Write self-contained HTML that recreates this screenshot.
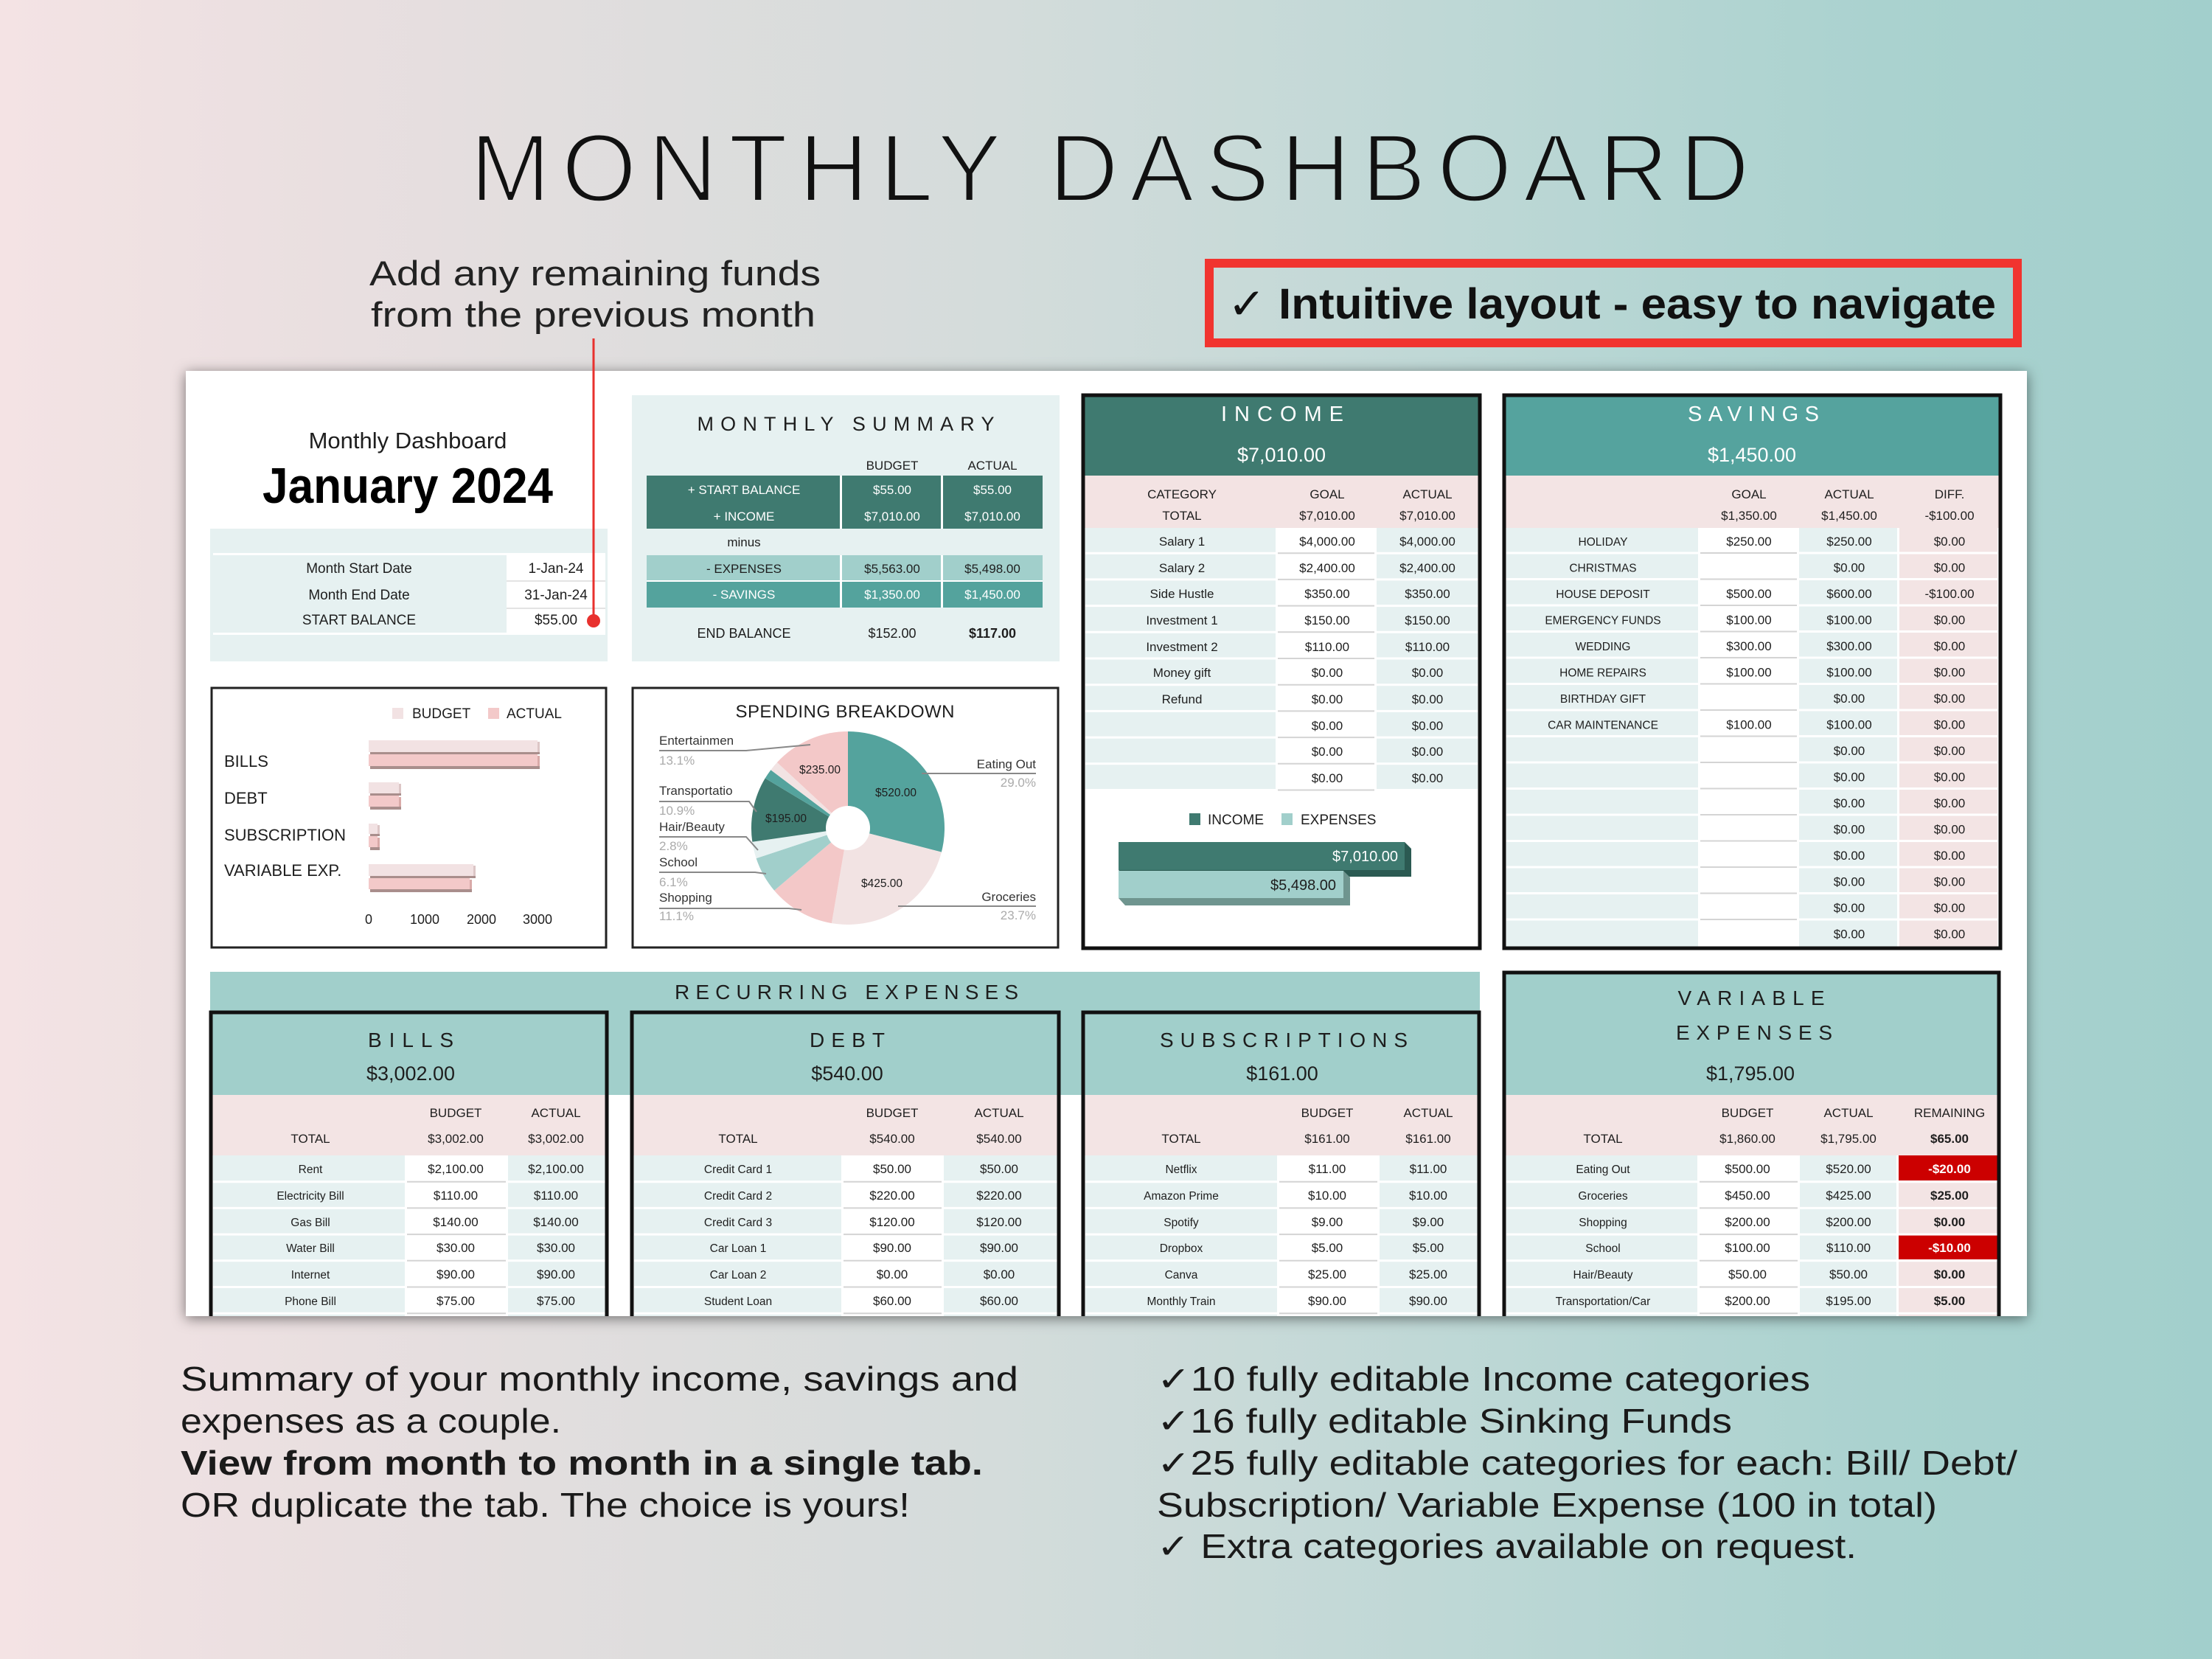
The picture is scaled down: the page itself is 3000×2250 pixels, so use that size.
<!DOCTYPE html>
<html><head><meta charset="utf-8"><style>
html,body{margin:0;padding:0;width:3000px;height:2250px;overflow:hidden;background:#ddd}
svg{display:block}
text{font-family:"Liberation Sans","DejaVu Sans",sans-serif;fill:#1e1e1e}
.c{text-anchor:middle;font-size:17px}
.s{text-anchor:middle;font-size:15.5px}
.w{fill:#fff}
.b{font-weight:bold}
.t{text-anchor:middle;font-size:29px;letter-spacing:7px}
.a{text-anchor:middle;font-size:27px}
.p{font-size:17px;fill:#333}
.q{font-size:17px;fill:#ababab}
.big{font-size:46px;fill:#1a1a1a}
</style></head><body>
<svg xmlns="http://www.w3.org/2000/svg" width="3000" height="2250" viewBox="0 0 3000 2250">
<defs>
<linearGradient id="bg" x1="0" x2="1" y1="0" y2="0">
<stop offset="0" stop-color="#f4e3e4"/>
<stop offset="0.15" stop-color="#e9dfe0"/>
<stop offset="0.3" stop-color="#dedddd"/>
<stop offset="0.45" stop-color="#d4dcdb"/>
<stop offset="0.65" stop-color="#bfd8d6"/>
<stop offset="0.85" stop-color="#aad2cf"/>
<stop offset="1" stop-color="#a2cfcc"/>
</linearGradient>
<linearGradient id="bg2" gradientUnits="userSpaceOnUse" x1="0" x2="3000" y1="0" y2="0">
<stop offset="0" stop-color="#f4e3e4"/>
<stop offset="0.15" stop-color="#e9dfe0"/>
<stop offset="0.3" stop-color="#dedddd"/>
<stop offset="0.45" stop-color="#d4dcdb"/>
<stop offset="0.65" stop-color="#bfd8d6"/>
<stop offset="0.85" stop-color="#aad2cf"/>
<stop offset="1" stop-color="#a2cfcc"/>
</linearGradient>
<filter id="sh" x="-5%" y="-5%" width="110%" height="110%">
<feDropShadow dx="0" dy="3" stdDeviation="9" flood-color="#000" flood-opacity="0.5"/>
</filter>
</defs>
<rect width="3000" height="2250" fill="url(#bg)"/>

<!-- Title -->
<text x="1505" y="273" font-size="131" text-anchor="middle" textLength="1735" style="fill:#111" stroke="url(#bg2)" stroke-width="4">MONTHLY DASHBOARD</text>
<text x="501" y="387" font-size="47" textLength="612" lengthAdjust="spacingAndGlyphs" style="fill:#222">Add any remaining funds</text>
<text x="503" y="443" font-size="47" textLength="603" lengthAdjust="spacingAndGlyphs" style="fill:#222">from the previous month</text>
<rect x="1640" y="357" width="1096" height="108" fill="none" stroke="#f1342f" stroke-width="12"/>
<text x="1665" y="432" font-size="58" font-weight="bold" textLength="1042" lengthAdjust="spacingAndGlyphs" style="fill:#111">✓ Intuitive layout - easy to navigate</text>

<!-- Card -->
<rect x="252" y="503" width="2497" height="1282" fill="#fff" filter="url(#sh)"/>

<!-- Left block -->
<text x="553" y="608" font-size="31" text-anchor="middle">Monthly Dashboard</text>
<text x="553" y="682" font-size="68" font-weight="bold" text-anchor="middle" textLength="394" lengthAdjust="spacingAndGlyphs" style="fill:#000">January 2024</text>
<rect x="285" y="717" width="539" height="180" fill="#e6f1f1"/>
<rect x="289" y="750" width="532" height="3" fill="#fff"/>
<rect x="687" y="753" width="134" height="105" fill="#fff"/>
<rect x="289" y="858" width="532" height="3" fill="#fff"/>
<rect x="687" y="787" width="134" height="2" fill="#e3e3e3"/>
<rect x="687" y="824" width="134" height="2" fill="#e3e3e3"/>
<text class="c" x="487" y="777" style="font-size:19px">Month Start Date</text>
<text class="c" x="754" y="777" style="font-size:19px">1-Jan-24</text>
<text class="c" x="487" y="813" style="font-size:19px">Month End Date</text>
<text class="c" x="754" y="813" style="font-size:19px">31-Jan-24</text>
<text class="c" x="487" y="847" style="font-size:19px">START BALANCE</text>
<text class="c" x="754" y="847" style="font-size:19px">$55.00</text>

<!-- Monthly summary -->
<rect x="857" y="536" width="580" height="361" fill="#e6f1f1"/>
<text x="1147" y="584" font-size="27" text-anchor="middle" textLength="403">MONTHLY SUMMARY</text>
<text class="c" x="1210" y="637">BUDGET</text>
<text class="c" x="1346" y="637">ACTUAL</text>
<rect x="877" y="645" width="537" height="72" fill="#3f7a70"/>
<rect x="877" y="753" width="537" height="35" fill="#a1cfcb"/>
<rect x="877" y="789" width="537" height="35" fill="#54a39d"/>
<rect x="1139" y="645" width="3" height="72" fill="#fff"/>
<rect x="1276" y="645" width="3" height="72" fill="#fff"/>
<rect x="1139" y="753" width="3" height="71" fill="#fff"/>
<rect x="1276" y="753" width="3" height="71" fill="#fff"/>
<rect x="877" y="787" width="537" height="2" fill="#fff"/>
<text class="c w" x="1009" y="670">+ START BALANCE</text>
<text class="c w" x="1210" y="670">$55.00</text>
<text class="c w" x="1346" y="670">$55.00</text>
<text class="c w" x="1009" y="706">+ INCOME</text>
<text class="c w" x="1210" y="706">$7,010.00</text>
<text class="c w" x="1346" y="706">$7,010.00</text>
<text class="c" x="1009" y="741">minus</text>
<text class="c" x="1009" y="777">- EXPENSES</text>
<text class="c" x="1210" y="777">$5,563.00</text>
<text class="c" x="1346" y="777">$5,498.00</text>
<text class="c w" x="1009" y="812">- SAVINGS</text>
<text class="c w" x="1210" y="812">$1,350.00</text>
<text class="c w" x="1346" y="812">$1,450.00</text>
<text class="c" x="1009" y="865" style="font-size:18px">END BALANCE</text>
<text class="c" x="1210" y="865" style="font-size:18px">$152.00</text>
<text class="c b" x="1346" y="865" style="font-size:18px">$117.00</text>

<!-- Bar chart panel -->
<rect x="287" y="933" width="535" height="352" fill="#fff" stroke="#222" stroke-width="3"/>
<rect x="532" y="960" width="15" height="15" fill="#f2e2e3"/>
<text x="559" y="974" font-size="19">BUDGET</text>
<rect x="662" y="960" width="15" height="15" fill="#f3c9c9"/>
<text x="687" y="974" font-size="19">ACTUAL</text>
<text x="304" y="1040" font-size="22">BILLS</text>
<text x="304" y="1090" font-size="22">DEBT</text>
<text x="304" y="1140" font-size="22">SUBSCRIPTION</text>
<text x="304" y="1188" font-size="22">VARIABLE EXP.</text>
<g>
<rect x="500" y="1004" width="229" height="16" fill="#f2e2e3"/><rect x="729" y="1006" width="3" height="16" fill="#dcc6c6"/><rect x="502" y="1020" width="230" height="3" fill="#a98e8c"/>
<rect x="500" y="1023" width="229" height="16" fill="#f3c9c9"/><rect x="729" y="1025" width="3" height="16" fill="#d9aaa8"/><rect x="502" y="1039" width="230" height="4" fill="#a98e8c"/>
<rect x="500" y="1061" width="41" height="15" fill="#f2e2e3"/><rect x="541" y="1063" width="3" height="15" fill="#dcc6c6"/><rect x="502" y="1076" width="42" height="3" fill="#a98e8c"/>
<rect x="500" y="1079" width="41" height="15" fill="#f3c9c9"/><rect x="541" y="1081" width="3" height="15" fill="#d9aaa8"/><rect x="502" y="1094" width="42" height="4" fill="#a98e8c"/>
<rect x="500" y="1117" width="12" height="14" fill="#f2e2e3"/><rect x="512" y="1119" width="3" height="14" fill="#dcc6c6"/><rect x="502" y="1131" width="13" height="3" fill="#a98e8c"/>
<rect x="500" y="1134" width="12" height="15" fill="#f3c9c9"/><rect x="512" y="1136" width="3" height="15" fill="#d9aaa8"/><rect x="502" y="1149" width="13" height="4" fill="#a98e8c"/>
<rect x="500" y="1172" width="142" height="16" fill="#f2e2e3"/><rect x="642" y="1174" width="3" height="16" fill="#dcc6c6"/><rect x="502" y="1188" width="143" height="3" fill="#a98e8c"/>
<rect x="500" y="1191" width="137" height="15" fill="#f3c9c9"/><rect x="637" y="1193" width="3" height="15" fill="#d9aaa8"/><rect x="502" y="1206" width="138" height="4" fill="#a98e8c"/>
</g>
<text class="c" x="500" y="1253" style="font-size:18px">0</text>
<text class="c" x="576" y="1253" style="font-size:18px">1000</text>
<text class="c" x="653" y="1253" style="font-size:18px">2000</text>
<text class="c" x="729" y="1253" style="font-size:18px">3000</text>

<!-- Pie panel -->
<rect x="858" y="933" width="577" height="352" fill="#fff" stroke="#222" stroke-width="3"/>
<text x="1146" y="973" font-size="24" text-anchor="middle" textLength="297">SPENDING BREAKDOWN</text>
<path d="M1150 1123 L1150 992 A131 131 0 0 1 1276.9 1155.6 Z" fill="#54a39d"/>
<path d="M1150 1123 L1276.9 1155.6 A131 131 0 0 1 1127.9 1252.1 Z" fill="#f2e3e3"/>
<path d="M1150 1123 L1127.9 1252.1 A131 131 0 0 1 1050.1 1207.7 Z" fill="#f3c8c8"/>
<path d="M1150 1123 L1050.1 1207.7 A131 131 0 0 1 1025.6 1164.1 Z" fill="#a1cfcb"/>
<path d="M1150 1123 L1025.6 1164.1 A131 131 0 0 1 1020.3 1141.7 Z" fill="#e6f1f1"/>
<path d="M1150 1123 L1020.3 1141.7 A131 131 0 0 1 1037.7 1055.5 Z" fill="#3f7a70"/>
<path d="M1150 1123 L1037.7 1055.5 A131 131 0 0 1 1045.4 1044.2 Z" fill="#54a39d"/>
<path d="M1150 1123 L1045.4 1044.2 A131 131 0 0 1 1053.9 1034.0 Z" fill="#f2e3e3"/>
<path d="M1150 1123 L1053.9 1034.0 A131 131 0 0 1 1150 992 Z" fill="#f3c8c8"/>
<circle cx="1150" cy="1123" r="30" fill="#fff"/>
<text class="s" x="1215" y="1080">$520.00</text>
<text class="s" x="1112" y="1049">$235.00</text>
<text class="s" x="1066" y="1115">$195.00</text>
<text class="s" x="1196" y="1203">$425.00</text>
<g fill="none" stroke="#888" stroke-width="2">
<polyline points="894,1018 1012,1018 1099,1010"/>
<polyline points="894,1087 1016,1087 1026,1101"/>
<polyline points="894,1135 1012,1135 1028,1153"/>
<polyline points="894,1183 1024,1183 1039,1185"/>
<polyline points="894,1232 1070,1232 1087,1234"/>
<polyline points="1405,1049 1250,1049"/>
<polyline points="1405,1229 1218,1229"/>
</g>
<text class="p" x="894" y="1010">Entertainmen</text><text class="q" x="894" y="1037">13.1%</text>
<text class="p" x="894" y="1078">Transportatio</text><text class="q" x="894" y="1105">10.9%</text>
<text class="p" x="894" y="1127">Hair/Beauty</text><text class="q" x="894" y="1153">2.8%</text>
<text class="p" x="894" y="1175">School</text><text class="q" x="894" y="1202">6.1%</text>
<text class="p" x="894" y="1223">Shopping</text><text class="q" x="894" y="1248">11.1%</text>
<text class="p" x="1405" y="1042" text-anchor="end">Eating Out</text><text class="q" x="1405" y="1067" text-anchor="end">29.0%</text>
<text class="p" x="1405" y="1222" text-anchor="end">Groceries</text><text class="q" x="1405" y="1247" text-anchor="end">23.7%</text>

<!-- INCOME panel -->
<rect x="1471" y="538" width="534" height="107" fill="#3f7a70"/>
<rect x="1471" y="645" width="534" height="71" fill="#f3e3e3"/>
<rect x="1472" y="716" width="258" height="357" fill="#e6f1f1"/>
<rect x="1867" y="716" width="137" height="357" fill="#e6f1f1"/>
<path d="M1472 750.2h532M1472 785.9h532M1472 821.6h532M1472 857.3h532M1472 893h532M1472 928.7h532M1472 964.4h532M1472 1000.1h532M1472 1035.8h532M1472 1071.5h532" stroke="#fff" stroke-width="3"/>
<path d="M1733 750.2h131M1733 785.9h131M1733 821.6h131M1733 857.3h131M1733 893h131M1733 928.7h131M1733 964.4h131M1733 1000.1h131M1733 1035.8h131M1733 1071.5h131" stroke="#d4d4d4" stroke-width="2"/>
<text x="1739" y="571" font-size="29" text-anchor="middle" textLength="166" class="w">INCOME</text>
<text class="a w" x="1738" y="626">$7,010.00</text>
<text class="c" x="1603" y="676">CATEGORY</text><text class="c" x="1800" y="676">GOAL</text><text class="c" x="1936" y="676">ACTUAL</text>
<text class="c" x="1603" y="705">TOTAL</text><text class="c" x="1800" y="705">$7,010.00</text><text class="c" x="1936" y="705">$7,010.00</text>
<text class="c" x="1603" y="740">Salary 1</text><text class="c" x="1800" y="740">$4,000.00</text><text class="c" x="1936" y="740">$4,000.00</text>
<text class="c" x="1603" y="776">Salary 2</text><text class="c" x="1800" y="776">$2,400.00</text><text class="c" x="1936" y="776">$2,400.00</text>
<text class="c" x="1603" y="811">Side Hustle</text><text class="c" x="1800" y="811">$350.00</text><text class="c" x="1936" y="811">$350.00</text>
<text class="c" x="1603" y="847">Investment 1</text><text class="c" x="1800" y="847">$150.00</text><text class="c" x="1936" y="847">$150.00</text>
<text class="c" x="1603" y="883">Investment 2</text><text class="c" x="1800" y="883">$110.00</text><text class="c" x="1936" y="883">$110.00</text>
<text class="c" x="1603" y="918">Money gift</text><text class="c" x="1800" y="918">$0.00</text><text class="c" x="1936" y="918">$0.00</text>
<text class="c" x="1603" y="954">Refund</text><text class="c" x="1800" y="954">$0.00</text><text class="c" x="1936" y="954">$0.00</text>
<text class="c" x="1800" y="990">$0.00</text><text class="c" x="1936" y="990">$0.00</text>
<text class="c" x="1800" y="1025">$0.00</text><text class="c" x="1936" y="1025">$0.00</text>
<text class="c" x="1800" y="1061">$0.00</text><text class="c" x="1936" y="1061">$0.00</text>
<rect x="1613" y="1103" width="15" height="16" fill="#3f7a70"/>
<text x="1638" y="1118" font-size="19">INCOME</text>
<rect x="1738" y="1103" width="15" height="16" fill="#a1cfcb"/>
<text x="1764" y="1118" font-size="19">EXPENSES</text>
<polygon points="1905,1142 1914,1151 1914,1189 1526,1189 1517,1180 1905,1180" fill="#2b5a52"/>
<rect x="1517" y="1142" width="388" height="38" fill="#3f7a70"/>
<polygon points="1822,1181 1831,1190 1831,1228 1526,1228 1517,1218 1822,1218" fill="#6f958f"/>
<rect x="1517" y="1181" width="305" height="37" fill="#a1cfcb"/>
<text x="1896" y="1168" font-size="20" text-anchor="end" class="w">$7,010.00</text>
<text x="1812" y="1207" font-size="20" text-anchor="end">$5,498.00</text>
<rect x="1469" y="536" width="538" height="750" fill="none" stroke="#111" stroke-width="5"/>

<!-- SAVINGS panel -->
<rect x="2042" y="538" width="669" height="107" fill="#55a39e"/>
<rect x="2042" y="645" width="669" height="71" fill="#f3e4e4"/>
<rect x="2043" y="716" width="260" height="568" fill="#e6f1f1"/>
<rect x="2440" y="716" width="133" height="568" fill="#e6f1f1"/>
<rect x="2576" y="716" width="133" height="568" fill="#f3e4e4"/>
<path d="M2043 750h666M2043 785.5h666M2043 821h666M2043 856.5h666M2043 892h666M2043 927.5h666M2043 963h666M2043 998.5h666M2043 1034h666M2043 1069.5h666M2043 1105h666M2043 1140.5h666M2043 1176h666M2043 1211.5h666M2043 1247h666" stroke="#fff" stroke-width="3"/>
<path d="M2306 750h131M2306 785.5h131M2306 821h131M2306 856.5h131M2306 892h131M2306 927.5h131M2306 963h131M2306 998.5h131M2306 1034h131M2306 1069.5h131M2306 1105h131M2306 1140.5h131M2306 1176h131M2306 1211.5h131M2306 1247h131" stroke="#d4d4d4" stroke-width="2"/>
<text x="2378" y="571" font-size="29" text-anchor="middle" textLength="178" class="w">SAVINGS</text>
<text class="a w" x="2376" y="626">$1,450.00</text>
<text class="c" x="2372" y="676">GOAL</text><text class="c" x="2508" y="676">ACTUAL</text><text class="c" x="2644" y="676">DIFF.</text>
<text class="c" x="2372" y="705">$1,350.00</text><text class="c" x="2508" y="705">$1,450.00</text><text class="c" x="2644" y="705">-$100.00</text>
<text class="s" x="2174" y="740">HOLIDAY</text><text class="c" x="2372" y="740">$250.00</text><text class="c" x="2508" y="740">$250.00</text><text class="c" x="2644" y="740">$0.00</text>
<text class="s" x="2174" y="775.5">CHRISTMAS</text><text class="c" x="2508" y="775.5">$0.00</text><text class="c" x="2644" y="775.5">$0.00</text>
<text class="s" x="2174" y="811">HOUSE DEPOSIT</text><text class="c" x="2372" y="811">$500.00</text><text class="c" x="2508" y="811">$600.00</text><text class="c" x="2644" y="811">-$100.00</text>
<text class="s" x="2174" y="846.5">EMERGENCY FUNDS</text><text class="c" x="2372" y="846.5">$100.00</text><text class="c" x="2508" y="846.5">$100.00</text><text class="c" x="2644" y="846.5">$0.00</text>
<text class="s" x="2174" y="882">WEDDING</text><text class="c" x="2372" y="882">$300.00</text><text class="c" x="2508" y="882">$300.00</text><text class="c" x="2644" y="882">$0.00</text>
<text class="s" x="2174" y="917.5">HOME REPAIRS</text><text class="c" x="2372" y="917.5">$100.00</text><text class="c" x="2508" y="917.5">$100.00</text><text class="c" x="2644" y="917.5">$0.00</text>
<text class="s" x="2174" y="953">BIRTHDAY GIFT</text><text class="c" x="2508" y="953">$0.00</text><text class="c" x="2644" y="953">$0.00</text>
<text class="s" x="2174" y="988.5">CAR MAINTENANCE</text><text class="c" x="2372" y="988.5">$100.00</text><text class="c" x="2508" y="988.5">$100.00</text><text class="c" x="2644" y="988.5">$0.00</text>
<text class="c" x="2508" y="1024">$0.00</text><text class="c" x="2644" y="1024">$0.00</text>
<text class="c" x="2508" y="1059.5">$0.00</text><text class="c" x="2644" y="1059.5">$0.00</text>
<text class="c" x="2508" y="1095">$0.00</text><text class="c" x="2644" y="1095">$0.00</text>
<text class="c" x="2508" y="1130.5">$0.00</text><text class="c" x="2644" y="1130.5">$0.00</text>
<text class="c" x="2508" y="1166">$0.00</text><text class="c" x="2644" y="1166">$0.00</text>
<text class="c" x="2508" y="1201.5">$0.00</text><text class="c" x="2644" y="1201.5">$0.00</text>
<text class="c" x="2508" y="1237">$0.00</text><text class="c" x="2644" y="1237">$0.00</text>
<text class="c" x="2508" y="1272.5">$0.00</text><text class="c" x="2644" y="1272.5">$0.00</text>
<rect x="2040" y="536" width="673" height="750" fill="none" stroke="#111" stroke-width="5"/>

<!-- RECURRING band -->
<rect x="285" y="1318" width="1722" height="167" fill="#a1cfcb"/>
<text x="1148" y="1355" font-size="28" text-anchor="middle" textLength="466">RECURRING EXPENSES</text>
<rect x="2042" y="1321" width="669" height="164" fill="#a1cfcb"/>

<!-- pink headers -->
<rect x="288" y="1485" width="533" height="82" fill="#f3e4e4"/>
<rect x="859" y="1485" width="575" height="82" fill="#f3e4e4"/>
<rect x="1471" y="1485" width="534" height="82" fill="#f3e4e4"/>
<rect x="2042" y="1485" width="669" height="82" fill="#f3e4e4"/>

<!-- row backgrounds -->
<rect x="289" y="1567" width="260" height="218" fill="#e6f1f1"/>
<rect x="689" y="1567" width="132" height="218" fill="#e6f1f1"/>
<rect x="860" y="1567" width="281" height="218" fill="#e6f1f1"/>
<rect x="1280" y="1567" width="154" height="218" fill="#e6f1f1"/>
<rect x="1472" y="1567" width="260" height="218" fill="#e6f1f1"/>
<rect x="1871" y="1567" width="133" height="218" fill="#e6f1f1"/>
<rect x="2043" y="1567" width="259" height="218" fill="#e6f1f1"/>
<rect x="2441" y="1567" width="131" height="218" fill="#e6f1f1"/>
<rect x="2575" y="1567" width="134" height="218" fill="#f3e4e4"/>
<rect x="2575" y="1567" width="134" height="34" fill="#cc0000"/>
<rect x="2575" y="1674" width="134" height="34" fill="#cc0000"/>
<path d="M288 1602.7h2423M288 1638.4h2423M288 1674.1h2423M288 1709.8h2423M288 1745.5h2423M288 1781.2h2423" stroke="#fff" stroke-width="3"/>
<path d="M552 1602.7h134M552 1638.4h134M552 1674.1h134M552 1709.8h134M552 1745.5h134M552 1781.2h134M1144 1602.7h133M1144 1638.4h133M1144 1674.1h133M1144 1709.8h133M1144 1745.5h133M1144 1781.2h133M1735 1602.7h133M1735 1638.4h133M1735 1674.1h133M1735 1709.8h133M1735 1745.5h133M1735 1781.2h133M2305 1602.7h133M2305 1638.4h133M2305 1674.1h133M2305 1709.8h133M2305 1745.5h133M2305 1781.2h133" stroke="#d4d4d4" stroke-width="2"/>

<!-- panel borders -->
<path d="M286 1785V1373H823V1785M857 1785V1373H1436V1785M1469 1785V1373H2006V1785M2040 1785V1319H2711V1785" fill="none" stroke="#111" stroke-width="5"/>

<!-- BILLS -->
<text x="557" y="1420" font-size="28" text-anchor="middle" textLength="116">BILLS</text>
<text class="a" x="557" y="1465">$3,002.00</text>
<text class="c" x="618" y="1515">BUDGET</text><text class="c" x="754" y="1515">ACTUAL</text>
<text class="c" x="421" y="1550">TOTAL</text><text class="c" x="618" y="1550">$3,002.00</text><text class="c" x="754" y="1550">$3,002.00</text>
<text class="s" x="421" y="1591">Rent</text><text class="c" x="618" y="1591">$2,100.00</text><text class="c" x="754" y="1591">$2,100.00</text>
<text class="s" x="421" y="1627">Electricity Bill</text><text class="c" x="618" y="1627">$110.00</text><text class="c" x="754" y="1627">$110.00</text>
<text class="s" x="421" y="1663">Gas Bill</text><text class="c" x="618" y="1663">$140.00</text><text class="c" x="754" y="1663">$140.00</text>
<text class="s" x="421" y="1698">Water Bill</text><text class="c" x="618" y="1698">$30.00</text><text class="c" x="754" y="1698">$30.00</text>
<text class="s" x="421" y="1734">Internet</text><text class="c" x="618" y="1734">$90.00</text><text class="c" x="754" y="1734">$90.00</text>
<text class="s" x="421" y="1770">Phone Bill</text><text class="c" x="618" y="1770">$75.00</text><text class="c" x="754" y="1770">$75.00</text>

<!-- DEBT -->
<text x="1149" y="1420" font-size="28" text-anchor="middle" textLength="102">DEBT</text>
<text class="a" x="1149" y="1465">$540.00</text>
<text class="c" x="1210" y="1515">BUDGET</text><text class="c" x="1355" y="1515">ACTUAL</text>
<text class="c" x="1001" y="1550">TOTAL</text><text class="c" x="1210" y="1550">$540.00</text><text class="c" x="1355" y="1550">$540.00</text>
<text class="s" x="1001" y="1591">Credit Card 1</text><text class="c" x="1210" y="1591">$50.00</text><text class="c" x="1355" y="1591">$50.00</text>
<text class="s" x="1001" y="1627">Credit Card 2</text><text class="c" x="1210" y="1627">$220.00</text><text class="c" x="1355" y="1627">$220.00</text>
<text class="s" x="1001" y="1663">Credit Card 3</text><text class="c" x="1210" y="1663">$120.00</text><text class="c" x="1355" y="1663">$120.00</text>
<text class="s" x="1001" y="1698">Car Loan 1</text><text class="c" x="1210" y="1698">$90.00</text><text class="c" x="1355" y="1698">$90.00</text>
<text class="s" x="1001" y="1734">Car Loan 2</text><text class="c" x="1210" y="1734">$0.00</text><text class="c" x="1355" y="1734">$0.00</text>
<text class="s" x="1001" y="1770">Student Loan</text><text class="c" x="1210" y="1770">$60.00</text><text class="c" x="1355" y="1770">$60.00</text>

<!-- SUBSCRIPTIONS -->
<text x="1741" y="1420" font-size="28" text-anchor="middle" textLength="336">SUBSCRIPTIONS</text>
<text class="a" x="1739" y="1465">$161.00</text>
<text class="c" x="1800" y="1515">BUDGET</text><text class="c" x="1937" y="1515">ACTUAL</text>
<text class="c" x="1602" y="1550">TOTAL</text><text class="c" x="1800" y="1550">$161.00</text><text class="c" x="1937" y="1550">$161.00</text>
<text class="s" x="1602" y="1591">Netflix</text><text class="c" x="1800" y="1591">$11.00</text><text class="c" x="1937" y="1591">$11.00</text>
<text class="s" x="1602" y="1627">Amazon Prime</text><text class="c" x="1800" y="1627">$10.00</text><text class="c" x="1937" y="1627">$10.00</text>
<text class="s" x="1602" y="1663">Spotify</text><text class="c" x="1800" y="1663">$9.00</text><text class="c" x="1937" y="1663">$9.00</text>
<text class="s" x="1602" y="1698">Dropbox</text><text class="c" x="1800" y="1698">$5.00</text><text class="c" x="1937" y="1698">$5.00</text>
<text class="s" x="1602" y="1734">Canva</text><text class="c" x="1800" y="1734">$25.00</text><text class="c" x="1937" y="1734">$25.00</text>
<text class="s" x="1602" y="1770">Monthly Train</text><text class="c" x="1800" y="1770">$90.00</text><text class="c" x="1937" y="1770">$90.00</text>

<!-- VARIABLE -->
<text x="2375" y="1363" font-size="28" text-anchor="middle" textLength="199">VARIABLE</text>
<text x="2379" y="1410" font-size="28" text-anchor="middle" textLength="212">EXPENSES</text>
<text class="a" x="2374" y="1465">$1,795.00</text>
<text class="c" x="2370" y="1515">BUDGET</text><text class="c" x="2507" y="1515">ACTUAL</text><text class="c" x="2644" y="1515">REMAINING</text>
<text class="c" x="2174" y="1550">TOTAL</text><text class="c" x="2370" y="1550">$1,860.00</text><text class="c" x="2507" y="1550">$1,795.00</text><text class="c b" x="2644" y="1550">$65.00</text>
<text class="s" x="2174" y="1591">Eating Out</text><text class="c" x="2370" y="1591">$500.00</text><text class="c" x="2507" y="1591">$520.00</text><text class="c b w" x="2644" y="1591">-$20.00</text>
<text class="s" x="2174" y="1627">Groceries</text><text class="c" x="2370" y="1627">$450.00</text><text class="c" x="2507" y="1627">$425.00</text><text class="c b" x="2644" y="1627">$25.00</text>
<text class="s" x="2174" y="1663">Shopping</text><text class="c" x="2370" y="1663">$200.00</text><text class="c" x="2507" y="1663">$200.00</text><text class="c b" x="2644" y="1663">$0.00</text>
<text class="s" x="2174" y="1698">School</text><text class="c" x="2370" y="1698">$100.00</text><text class="c" x="2507" y="1698">$110.00</text><text class="c b w" x="2644" y="1698">-$10.00</text>
<text class="s" x="2174" y="1734">Hair/Beauty</text><text class="c" x="2370" y="1734">$50.00</text><text class="c" x="2507" y="1734">$50.00</text><text class="c b" x="2644" y="1734">$0.00</text>
<text class="s" x="2174" y="1770">Transportation/Car</text><text class="c" x="2370" y="1770">$200.00</text><text class="c" x="2507" y="1770">$195.00</text><text class="c b" x="2644" y="1770">$5.00</text>

<!-- red annotation line -->
<line x1="805" y1="459" x2="805" y2="842" stroke="#e8312e" stroke-width="3"/>
<circle cx="805" cy="842" r="9" fill="#e8312e"/>

<!-- Bottom text -->
<text class="big" x="245" y="1886" textLength="1136" lengthAdjust="spacingAndGlyphs">Summary of your monthly income, savings and</text>
<text class="big" x="245" y="1943" textLength="516" lengthAdjust="spacingAndGlyphs">expenses as a couple.</text>
<text class="big b" x="245" y="2000" textLength="1088" lengthAdjust="spacingAndGlyphs">View from month to month in a single tab.</text>
<text class="big" x="245" y="2057" textLength="989" lengthAdjust="spacingAndGlyphs">OR duplicate the tab. The choice is yours!</text>
<text class="big" x="1569" y="1886" textLength="886" lengthAdjust="spacingAndGlyphs">✓10 fully editable Income categories</text>
<text class="big" x="1569" y="1943" textLength="780" lengthAdjust="spacingAndGlyphs">✓16 fully editable Sinking Funds</text>
<text class="big" x="1569" y="2000" textLength="1167" lengthAdjust="spacingAndGlyphs">✓25 fully editable categories for each: Bill/ Debt/</text>
<text class="big" x="1569" y="2057" textLength="1058" lengthAdjust="spacingAndGlyphs">Subscription/ Variable Expense (100 in total)</text>
<text class="big" x="1569" y="2113" textLength="949" lengthAdjust="spacingAndGlyphs">✓ Extra categories available on request.</text>
</svg>
</body></html>
